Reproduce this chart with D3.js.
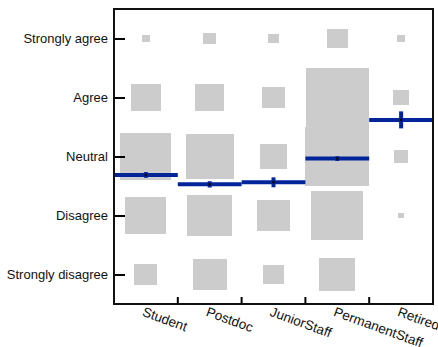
<!DOCTYPE html>
<html>
<head>
<meta charset="utf-8">
<script src="https://cdn.jsdelivr.net/npm/d3@7"></script>
<style>
  html, body { margin: 0; padding: 0; background: #fff; }
  svg { display: block; font-family: "Liberation Sans", Arial, Helvetica, sans-serif; }
</style>
</head>
<body>
<svg id="chart" width="438" height="347"></svg>
<script>
// Career stage groups along the x axis
const groups = ["Student", "Postdoc", "JuniorStaff", "PermanentStaff", "Retired"];

// Likert levels, value 1 (bottom) to 5 (top)
const levels = ["Strongly disagree", "Disagree", "Neutral", "Agree", "Strongly agree"];
const levelValues = [1, 2, 3, 4, 5];

// Response counts per group, ordered as levels (Strongly disagree .. Strongly agree)
const studentCounts   = [30, 94, 145, 48, 3];
const postdocCounts   = [63, 110, 130, 48, 9];
const juniorCounts    = [24, 62, 40, 28, 6];
const permanentCounts = [71, 153, 227, 220, 25];
const retiredCounts   = [0, 2, 10, 14, 3];

const countsByGroup = [studentCounts, postdocCounts, juniorCounts, permanentCounts, retiredCounts];

const W = 438, H = 347;
const margin = { left: 114, right: 5, top: 9, bottom: 43 };

const svg = d3.select("#chart");

const x = d3.scaleBand()
  .domain(groups)
  .range([margin.left, W - margin.right])
  .paddingInner(0).paddingOuter(0);

const y = d3.scaleLinear()
  .domain([0.5, 5.5])
  .range([H - margin.bottom, margin.top]);

const maxCount = d3.max(countsByGroup.flat());
const yUnit = Math.abs(y(1) - y(0));
const bw = x.bandwidth();

// One cell per group x level; square side (in data units) ∝ sqrt(count)
const cells = [];
groups.forEach((g, gi) => {
  countsByGroup[gi].forEach((c, li) => {
    if (c > 0) cells.push({ group: g, value: levelValues[li], count: c, side: Math.sqrt(c / maxCount) });
  });
});

svg.append("g")
  .attr("shape-rendering", "crispEdges")
  .selectAll("rect")
  .data(cells)
  .join("rect")
  .attr("x", d => x(d.group) + bw / 2 - d.side * bw / 2)
  .attr("y", d => y(d.value) - d.side * yUnit / 2)
  .attr("width", d => d.side * bw)
  .attr("height", d => d.side * yUnit)
  .attr("fill", "#cccccc");

// Mean response and standard error per group
const stats = groups.map((g, gi) => {
  const c = countsByGroup[gi];
  const n = d3.sum(c);
  const mean = d3.sum(c.map((v, i) => v * levelValues[i])) / n;
  const ss = d3.sum(c.map((v, i) => v * (levelValues[i] - mean) ** 2));
  const sd = Math.sqrt(ss / (n - 1));
  return { group: g, mean, se: sd / Math.sqrt(n) };
});

const blue = "#00259a";
const meanG = svg.append("g");
meanG.selectAll("line.mean")
  .data(stats)
  .join("line")
  .attr("class", "mean")
  .attr("x1", d => x(d.group))
  .attr("x2", d => x(d.group) + bw)
  .attr("y1", d => y(d.mean))
  .attr("y2", d => y(d.mean))
  .attr("stroke", blue)
  .attr("stroke-width", 4);
meanG.selectAll("line.err")
  .data(stats)
  .join("line")
  .attr("class", "err")
  .attr("x1", d => x(d.group) + bw / 2)
  .attr("x2", d => x(d.group) + bw / 2)
  .attr("y1", d => y(d.mean - d.se))
  .attr("y2", d => y(d.mean + d.se))
  .attr("stroke", blue)
  .attr("stroke-width", 4);
meanG.selectAll("circle")
  .data(stats)
  .join("circle")
  .attr("cx", d => x(d.group) + bw / 2)
  .attr("cy", d => y(d.mean))
  .attr("r", 1.3)
  .attr("fill", "#000");

// Left axis: inward ticks, labels outside
const yAxis = d3.axisLeft(y)
  .tickValues(levelValues)
  .tickFormat((d, i) => levels[i])
  .tickSizeInner(-11)
  .tickSizeOuter(0)
  .tickPadding(6);
const gy = svg.append("g")
  .attr("transform", `translate(${margin.left},0)`)
  .call(yAxis);
gy.select(".domain").remove();
gy.selectAll(".tick line").attr("stroke", "#000").attr("stroke-width", 2);
gy.selectAll(".tick text")
  .attr("font-size", 13)
  .attr("fill", "#111")
  .attr("font-family", "Liberation Sans, Arial, sans-serif");

// Bottom axis: inward ticks at group boundaries
const boundaries = groups.slice(1).map(g => x(g));
svg.append("g").selectAll("line")
  .data(boundaries)
  .join("line")
  .attr("x1", d => d).attr("x2", d => d)
  .attr("y1", H - margin.bottom)
  .attr("y2", H - margin.bottom - 7)
  .attr("stroke", "#000")
  .attr("stroke-width", 2);

svg.append("g").selectAll("text")
  .data(groups)
  .join("text")
  .attr("transform", d => `translate(${x(d) + bw / 2 - 1},${H - margin.bottom + 2}) rotate(20)`)
  .attr("dy", "0.75em")
  .attr("font-size", 13.5)
  .attr("fill", "#111")
  .text(d => d);

// Plot frame
svg.append("rect")
  .attr("x", margin.left)
  .attr("y", margin.top)
  .attr("width", W - margin.right - margin.left)
  .attr("height", H - margin.bottom - margin.top)
  .attr("fill", "none")
  .attr("stroke", "#111")
  .attr("stroke-width", 2);
</script>
</body>
</html>
